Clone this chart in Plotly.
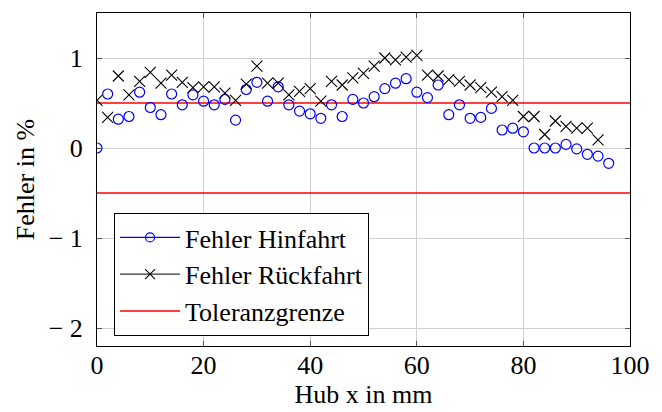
import plotly.graph_objects as go

# Messpositionen (Hub in mm)
hub_hin = list(range(0, 97, 2))
hub_rueck = list(range(0, 95, 2))

# Fehler in % bei Hinfahrt
fehler_hin = [0.00, 0.60, 0.32, 0.35, 0.62, 0.45, 0.37, 0.60, 0.48, 0.59,
              0.52, 0.48, 0.54, 0.31, 0.65, 0.73, 0.52, 0.68, 0.48, 0.41,
              0.38, 0.33, 0.48, 0.35, 0.54, 0.50, 0.57, 0.66, 0.72, 0.77,
              0.62, 0.56, 0.70, 0.37, 0.48, 0.33, 0.34, 0.44, 0.20, 0.22,
              0.18, 0.00, 0.00, 0.00, 0.04, -0.01, -0.07, -0.09, -0.17]

# Fehler in % bei Rückfahrt
fehler_rueck = [0.53, 0.34, 0.80, 0.59, 0.74, 0.84, 0.72, 0.81, 0.73, 0.67,
                0.68, 0.68, 0.61, 0.53, 0.71, 0.91, 0.72, 0.72, 0.59, 0.63,
                0.66, 0.52, 0.74, 0.70, 0.78, 0.83, 0.91, 1.00, 0.98, 1.01,
                1.03, 0.81, 0.80, 0.76, 0.74, 0.70, 0.67, 0.62, 0.57, 0.53,
                0.35, 0.35, 0.15, 0.30, 0.24, 0.22, 0.22, 0.09]

# Toleranzgrenzen
tol_x = [0, 100]
tol_grenze = 0.5

x_ticks = [0, 20, 40, 60, 80, 100]
y_ticks = [1, 0, -1, -2]
y_ticktext = ["1", "0", "\u2212 1", "\u2212 2"]

FONT = "Liberation Serif, Times New Roman, serif"
FS = 26
blue = "#0000ff"
black = "#000000"
red = "#ff0000"

fig = go.Figure()

# Toleranzlinien
fig.add_trace(go.Scatter(
    x=tol_x + [None] + tol_x,
    y=[tol_grenze, tol_grenze, None, -tol_grenze, -tol_grenze],
    mode="lines", line=dict(color=red, width=1.4),
    showlegend=False, hoverinfo="skip"))

fig.add_trace(go.Scatter(
    x=hub_hin, y=fehler_hin, mode="markers",
    marker=dict(symbol="circle-open", size=10, color=blue,
                line=dict(color=blue, width=1.2)),
    showlegend=False))

fig.add_trace(go.Scatter(
    x=hub_rueck, y=fehler_rueck, mode="markers",
    marker=dict(symbol="x-thin-open", size=11, color=black,
                line=dict(color=black, width=1.1)),
    showlegend=False))

# Legendeneinträge mit Linie und Marker
fig.add_trace(go.Scatter(
    x=[None], y=[None], mode="lines+markers", name="Fehler Hinfahrt",
    line=dict(color=blue, width=1.2),
    marker=dict(symbol="circle-open", size=9, color=blue,
                line=dict(color=blue, width=1.2))))
fig.add_trace(go.Scatter(
    x=[None], y=[None], mode="lines+markers", name="Fehler Rückfahrt",
    line=dict(color="#333333", width=1.2),
    marker=dict(symbol="x-thin-open", size=10, color=black,
                line=dict(color=black, width=1.1))))
fig.add_trace(go.Scatter(
    x=[None], y=[None], mode="lines", name="Toleranzgrenze",
    line=dict(color=red, width=1.4)))

axis_common = dict(
    showline=True, linecolor="black", linewidth=1, mirror="ticks",
    ticks="inside", ticklen=5, tickcolor="#555555", tickwidth=1,
    showgrid=True, gridcolor="#d0d0d0", gridwidth=1,
    zeroline=False, automargin=False,
    tickfont=dict(family=FONT, size=FS, color="black"),
)

fig.update_xaxes(
    range=[0, 100], tickvals=x_ticks, ticktext=[str(v) for v in x_ticks],
    title=dict(text="Hub x in mm", font=dict(family=FONT, size=FS, color="black"),
               standoff=2),
    ticklabelstandoff=-4,
    **axis_common)

fig.update_yaxes(
    range=[-2.2, 1.5], tickvals=y_ticks, ticktext=y_ticktext,
    title=dict(text="Fehler in %", font=dict(family=FONT, size=FS, color="black"),
               standoff=6),
    ticklabelstandoff=8,
    **axis_common)

fig.update_layout(
    width=662, height=412,
    margin=dict(l=97, r=32, t=13, b=66),
    paper_bgcolor="white", plot_bgcolor="white",
    font=dict(family=FONT, size=FS, color="black"),
    legend=dict(
        x=0.032, y=0.03, xanchor="left", yanchor="bottom",
        bgcolor="white", bordercolor="black", borderwidth=1,
        font=dict(family=FONT, size=FS, color="black"),
        itemwidth=60, tracegroupgap=0,
    ),
)

fig.write_html("out.html")
